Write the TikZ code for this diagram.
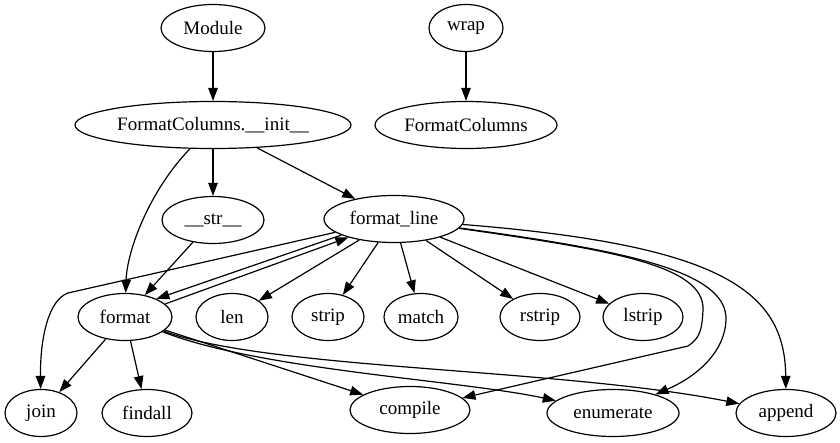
\documentclass[tikz,border=0pt]{standalone}
\usepackage{fontspec}
\setmainfont{Liberation Serif}
\usetikzlibrary{arrows.meta,shapes.geometric}
\begin{document}
\begin{tikzpicture}[x=1pt,y=-1pt,
  nd/.style={ellipse,draw,line width=1.2pt,inner sep=0pt,minimum height=47pt,font=\fontsize{19}{22}\selectfont},
  ed/.style={line width=1.2pt,-{Triangle[length=13pt,width=9.5pt]}}]
\path[use as bounding box] (0,0) rectangle (840,443);
\node[nd,minimum width=104pt] (module) at (213,28) {Module};
\node[nd,minimum width=74pt] (wrap) at (466,28) {wrap};
\node[nd,minimum width=276pt] (init) at (213,125) {FormatColumns.\_\_init\_\_};
\node[nd,minimum width=182pt] (fc) at (466,125) {FormatColumns};
\node[nd,minimum width=102pt] (str) at (213,220) {\_\_str\_\_};
\node[nd,minimum width=140pt] (fl) at (394,219) {format\_line};
\node[nd,minimum width=94pt] (format) at (125,317) {format};
\node[nd,minimum width=72pt] (len) at (232,317) {len};
\node[nd,minimum width=72pt] (strip) at (328,317) {strip};
\node[nd,minimum width=74pt] (match) at (421,317) {match};
\node[nd,minimum width=80pt] (rstrip) at (540,317) {rstrip};
\node[nd,minimum width=80pt] (lstrip) at (643,317) {lstrip};
\node[nd,minimum width=72pt] (join) at (41,413) {join};
\node[nd,minimum width=90pt] (findall) at (147,413) {findall};
\node[nd,minimum width=120pt] (compile) at (410,410) {compile};
\node[nd,minimum width=132pt] (enumerate) at (613,413) {enumerate};
\node[nd,minimum width=100pt] (append) at (786,413) {append};
\draw[ed] (module) -- (init);
\draw[ed] (wrap) -- (fc);
\draw[ed] (init) -- (str);
\draw[ed] (init) -- (fl);
\draw[ed] (init) .. controls (150,190) and (127,250) .. (format);
\draw[ed] (str) -- (format);
\draw[ed] (fl.197) -- (format.30);
\draw[ed] (format.18) -- (fl.202);
\draw[ed] (fl) -- (68,293) .. controls (48,300) and (40,340) .. (join);
\draw[ed] (fl) -- (len);
\draw[ed] (fl) -- (strip);
\draw[ed] (fl) -- (match);
\draw[ed] (fl) -- (rstrip);
\draw[ed] (fl) -- (lstrip);
\draw[ed] (fl) .. controls (610,250) and (705,265) .. (703,310) .. controls (702,330) and (700,338) .. (688,346) -- (compile);
\draw[ed] (fl) .. controls (620,250) and (728,270) .. (726,320) .. controls (725,350) and (700,375) .. (enumerate);
\draw[ed] (fl) .. controls (720,245) and (785,290) .. (append);
\draw[ed] (format) -- (join);
\draw[ed] (format) -- (findall);
\draw[ed] (format) -- (compile);
\draw[ed] (format) .. controls (260,370) and (460,380) .. (enumerate);
\draw[ed] (format) .. controls (270,370) and (560,368) .. (append);
\end{tikzpicture}
\end{document}
